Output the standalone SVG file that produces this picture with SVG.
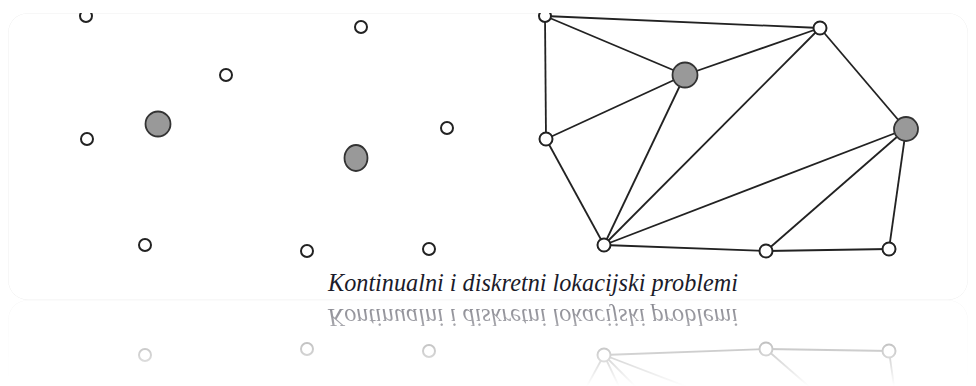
<svg xmlns="http://www.w3.org/2000/svg" xmlns:xlink="http://www.w3.org/1999/xlink" width="976" height="386" viewBox="0 0 976 386">
<defs>
<style>
.n{fill:#fff;stroke:#222;stroke-width:2}
.g{fill:#999;stroke:#333;stroke-width:1.8}
.e{stroke:#222;stroke-width:1.8;fill:none}
.t{font-family:"Liberation Serif",serif;font-style:italic;font-size:26px;fill:#1b1b2a}
</style>
<clipPath id="card"><rect x="8" y="13" width="960" height="287" rx="20"/></clipPath>
<linearGradient id="fade" x1="0" y1="0" x2="0" y2="1">
<stop offset="0" stop-color="#fff" stop-opacity="0.55"/>
<stop offset="1" stop-color="#fff" stop-opacity="0"/>
</linearGradient>
<mask id="m" maskUnits="userSpaceOnUse" x="0" y="300" width="976" height="86"><rect x="0" y="300" width="976" height="86" fill="url(#fade)"/></mask>
</defs>
<rect width="976" height="386" fill="#fff"/>
<g id="scene" clip-path="url(#card)">
<rect x="8" y="13" width="960" height="287" rx="20" fill="#fff" stroke="#f0f0f0"/>
<g id="connectors">
<line class="e" x1="545" y1="16" x2="820" y2="28"/>
<line class="e" x1="545" y1="16" x2="685" y2="75"/>
<line class="e" x1="545" y1="16" x2="546" y2="139"/>
<line class="e" x1="685" y1="75" x2="820" y2="28"/>
<line class="e" x1="685" y1="75" x2="546" y2="139"/>
<line class="e" x1="685" y1="75" x2="604" y2="245"/>
<line class="e" x1="820" y1="28" x2="604" y2="245"/>
<line class="e" x1="820" y1="28" x2="906" y2="129"/>
<line class="e" x1="546" y1="139" x2="604" y2="245"/>
<line class="e" x1="604" y1="245" x2="906" y2="129"/>
<line class="e" x1="604" y1="245" x2="766" y2="251"/>
<line class="e" x1="766" y1="251" x2="906" y2="129"/>
<line class="e" x1="766" y1="251" x2="889" y2="249"/>
<line class="e" x1="889" y1="249" x2="906" y2="129"/>
</g>
<g id="l1"><circle class="n" cx="86" cy="16" r="6"/></g>
<g id="l2"><circle class="n" cx="361" cy="27" r="6"/></g>
<g id="l3"><circle class="n" cx="226" cy="75" r="6"/></g>
<g id="l4"><circle class="n" cx="87" cy="139" r="6"/></g>
<g id="l5"><circle class="g" cx="158" cy="124" r="12.5"/></g>
<g id="l6"><ellipse class="g" cx="356" cy="158" rx="11.5" ry="13"/></g>
<g id="l7"><circle class="n" cx="447" cy="128" r="6"/></g>
<g id="l8"><circle class="n" cx="145" cy="245" r="6"/></g>
<g id="l9"><circle class="n" cx="307" cy="251" r="6"/></g>
<g id="l10"><circle class="n" cx="429" cy="249" r="6"/></g>
<g id="rA"><circle class="n" cx="545" cy="16" r="6"/></g>
<g id="rB"><circle class="n" cx="820" cy="28" r="6.5"/></g>
<g id="rC"><circle class="g" cx="685" cy="75" r="12.5"/></g>
<g id="rD"><circle class="n" cx="546" cy="139" r="6.5"/></g>
<g id="rE"><circle class="g" cx="906" cy="129" r="12"/></g>
<g id="rF"><circle class="n" cx="604" cy="245" r="6.5"/></g>
<g id="rG"><circle class="n" cx="766" cy="251" r="6.5"/></g>
<g id="rH"><circle class="n" cx="889" cy="249" r="6.5"/></g>
<text class="t" x="328" y="291" textLength="410" lengthAdjust="spacingAndGlyphs">Kontinualni i diskretni lokacijski problemi</text>
</g>
<g mask="url(#m)">
<use xlink:href="#scene" transform="translate(0,600) scale(1,-1)"/>
</g>
</svg>
